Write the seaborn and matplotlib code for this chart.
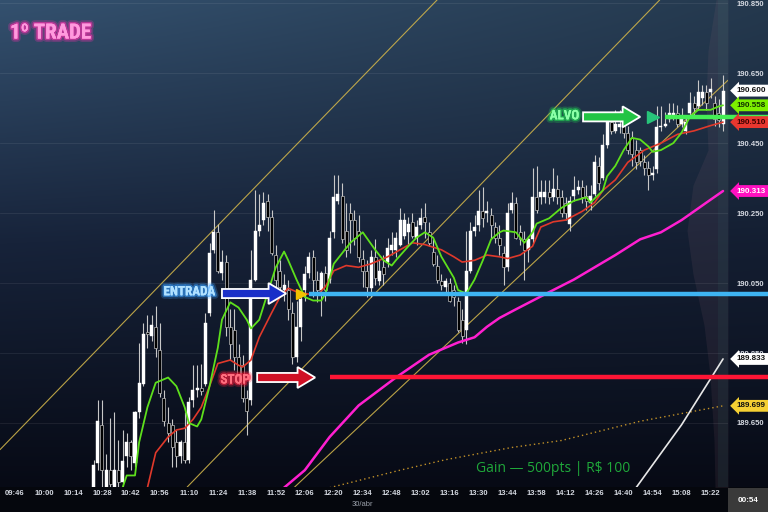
import numpy as np
import matplotlib
matplotlib.use("Agg")
import matplotlib.pyplot as plt
import matplotlib.patheffects as pe
import matplotlib.transforms as mtransforms
from matplotlib.patches import FancyArrow, Rectangle
from matplotlib.colors import to_rgb
import seaborn as sns

sns.set_style("dark")
plt.rcParams['font.family'] = ['DejaVu Sans']


def hm(s):
    h, m = s.split(":")
    return int(h) * 60 + int(m)


# ---- 2 minute candles ----
first_bar = "10:24"
opens = [189.465, 189.535, 189.645, 189.465, 189.515, 189.465, 189.515, 189.480, 189.555, 189.595,
         189.535, 189.680, 189.760, 189.910, 189.900, 189.925, 189.860, 189.720, 189.650, 189.645,
         189.595, 189.555, 189.595, 189.545, 189.715, 189.745, 189.750, 189.760, 189.965, 190.145,
         190.195, 190.080, 190.110, 189.925, 189.915, 189.840, 189.815, 189.720, 189.715, 190.060,
         190.200, 190.230, 190.285, 190.240, 190.130, 190.085, 190.030, 190.030, 189.965, 189.840,
         189.925, 190.030, 190.080, 190.125, 190.060, 190.030, 190.080, 190.060, 190.195, 190.285,
         190.300, 190.200, 190.250, 190.230, 190.200, 190.120, 190.085, 190.035, 190.125, 190.055,
         190.095, 190.110, 190.145, 190.145, 190.160, 190.185, 190.195, 190.225, 190.180, 190.215,
         190.240, 190.195, 190.140, 190.100, 190.055, 190.040, 190.050, 190.030, 190.000, 189.945,
         189.915, 190.085, 190.200, 190.215, 190.255, 190.250, 190.245, 190.210, 190.180, 190.135,
         190.095, 190.260, 190.280, 190.195, 190.175, 190.145, 190.175, 190.295, 190.295, 190.295,
         190.310, 190.295, 190.320, 190.295, 190.280, 190.220, 190.300, 190.315, 190.325, 190.300,
         190.280, 190.305, 190.385, 190.350, 190.445, 190.510, 190.485, 190.495, 190.505, 190.480,
         190.465, 190.430, 190.430, 190.395, 190.380, 190.360, 190.375, 190.495, 190.500, 190.520,
         190.525, 190.535, 190.505, 190.485, 190.535, 190.565, 190.555, 190.580, 190.595, 190.595,
         190.565, 190.535, 190.505]
highs = [189.545, 189.715, 189.715, 189.560, 189.665, 189.680, 189.600, 189.630, 189.620, 189.600,
         189.685, 189.880, 189.935, 189.960, 189.960, 189.985, 189.935, 189.745, 189.695, 189.660,
         189.630, 189.600, 189.680, 189.725, 189.815, 189.815, 189.820, 189.965, 190.165, 190.260,
         190.220, 190.145, 190.130, 189.975, 189.975, 189.875, 189.845, 189.745, 190.145, 190.315,
         190.305, 190.310, 190.305, 190.260, 190.160, 190.115, 190.075, 190.060, 189.995, 190.000,
         190.020, 190.100, 190.140, 190.145, 190.085, 190.085, 190.100, 190.200, 190.360, 190.360,
         190.335, 190.280, 190.280, 190.260, 190.245, 190.145, 190.115, 190.145, 190.175, 190.115,
         190.130, 190.180, 190.195, 190.195, 190.265, 190.250, 190.240, 190.250, 190.230, 190.265,
         190.280, 190.225, 190.175, 190.130, 190.075, 190.065, 190.065, 190.045, 190.010, 189.975,
         190.200, 190.225, 190.245, 190.315, 190.325, 190.285, 190.265, 190.225, 190.215, 190.155,
         190.280, 190.310, 190.295, 190.215, 190.200, 190.185, 190.380, 190.385, 190.345, 190.345,
         190.345, 190.380, 190.360, 190.315, 190.295, 190.300, 190.355, 190.345, 190.345, 190.330,
         190.330, 190.415, 190.410, 190.475, 190.535, 190.535, 190.545, 190.545, 190.530, 190.500,
         190.485, 190.460, 190.440, 190.415, 190.400, 190.385, 190.555, 190.555, 190.540, 190.565,
         190.565, 190.560, 190.550, 190.530, 190.595, 190.585, 190.630, 190.615, 190.615, 190.635,
         190.585, 190.575, 190.645]
lows = [189.460, 189.515, 189.465, 189.460, 189.460, 189.460, 189.460, 189.465, 189.525, 189.515,
        189.525, 189.665, 189.755, 189.865, 189.885, 189.840, 189.725, 189.640, 189.595, 189.525,
        189.525, 189.535, 189.535, 189.535, 189.695, 189.725, 189.730, 189.755, 189.955, 190.135,
        190.080, 190.060, 189.900, 189.830, 189.800, 189.760, 189.710, 189.615, 189.700, 190.055,
        190.185, 190.215, 190.200, 190.130, 190.040, 190.015, 190.000, 189.945, 189.820, 189.825,
        189.885, 190.000, 190.065, 190.010, 189.995, 189.955, 190.000, 190.050, 190.180, 190.275,
        190.165, 190.125, 190.135, 190.160, 190.110, 190.040, 190.010, 190.010, 190.045, 190.045,
        190.045, 190.095, 190.130, 190.125, 190.155, 190.175, 190.160, 190.180, 190.160, 190.205,
        190.180, 190.155, 190.100, 190.050, 190.030, 190.025, 189.995, 189.985, 189.910, 189.880,
        189.875, 190.080, 190.185, 190.200, 190.210, 190.225, 190.180, 190.165, 190.130, 190.045,
        190.085, 190.250, 190.175, 190.160, 190.060, 190.110, 190.165, 190.250, 190.275, 190.280,
        190.275, 190.285, 190.275, 190.240, 190.230, 190.200, 190.285, 190.305, 190.280, 190.260,
        190.260, 190.300, 190.315, 190.345, 190.435, 190.475, 190.480, 190.480, 190.465, 190.420,
        190.385, 190.375, 190.385, 190.360, 190.315, 190.345, 190.365, 190.485, 190.495, 190.510,
        190.515, 190.495, 190.495, 190.475, 190.525, 190.530, 190.545, 190.560, 190.545, 190.580,
        190.500, 190.495, 190.485]
closes = [189.530, 189.655, 189.515, 189.515, 189.475, 189.515, 189.480, 189.540, 189.595, 189.555,
          189.680, 189.765, 189.905, 189.905, 189.930, 189.865, 189.735, 189.655, 189.620, 189.580,
          189.555, 189.595, 189.545, 189.710, 189.745, 189.750, 189.740, 189.935, 190.135, 190.195,
          190.085, 190.110, 189.925, 189.875, 189.840, 189.785, 189.720, 189.685, 190.060, 190.200,
          190.215, 190.280, 190.240, 190.135, 190.060, 190.040, 190.045, 189.975, 189.840, 189.925,
          190.005, 190.075, 190.125, 190.060, 190.030, 190.080, 190.030, 190.180, 190.295, 190.305,
          190.175, 190.145, 190.230, 190.180, 190.125, 190.085, 190.040, 190.125, 190.065, 190.085,
          190.075, 190.150, 190.160, 190.180, 190.230, 190.230, 190.220, 190.185, 190.210, 190.235,
          190.225, 190.165, 190.105, 190.060, 190.045, 190.055, 190.000, 190.010, 189.915, 189.900,
          190.085, 190.200, 190.210, 190.255, 190.235, 190.255, 190.215, 190.180, 190.160, 190.095,
          190.250, 190.280, 190.180, 190.175, 190.145, 190.175, 190.295, 190.260, 190.310, 190.310,
          190.295, 190.320, 190.295, 190.250, 190.250, 190.285, 190.315, 190.325, 190.295, 190.285,
          190.300, 190.395, 190.335, 190.445, 190.510, 190.485, 190.505, 190.505, 190.480, 190.430,
          190.420, 190.395, 190.400, 190.380, 190.360, 190.365, 190.495, 190.500, 190.505, 190.535,
          190.535, 190.505, 190.520, 190.510, 190.565, 190.550, 190.595, 190.595, 190.565, 190.605,
          190.520, 190.515, 190.600]

# indicator lines, read at candle numbers (1 = first candle)
fast_bar = [8, 9, 11, 12, 14, 16, 19, 21, 23, 24, 26, 27, 29, 31, 32, 34, 36, 38, 39, 41,
            43, 45, 47, 48, 50, 52, 54, 56, 57, 59, 61, 63, 66, 69, 71, 73, 74, 77, 79, 81,
            83, 85, 88, 89, 91, 93, 95, 97, 99, 100, 103, 105, 107, 108, 111, 114, 117, 120, 121, 124,
            125, 127, 129, 131, 133, 135, 136, 138, 141, 143, 145, 147, 150, 152, 153]
fast_val = [189.465, 189.500, 189.500, 189.595, 189.695, 189.765, 189.780, 189.755, 189.695, 189.650,
            189.640, 189.660, 189.755, 189.865, 189.945, 189.995, 189.980, 189.945, 189.920, 189.945,
            190.020, 190.095, 190.140, 190.115, 190.060, 190.010, 190.000, 190.000, 190.020, 190.105,
            190.135, 190.165, 190.195, 190.145, 190.115, 190.100, 190.115, 190.155, 190.180, 190.195,
            190.180, 190.125, 190.065, 190.030, 190.020, 190.060, 190.115, 190.175, 190.195, 190.200,
            190.195, 190.165, 190.195, 190.220, 190.235, 190.265, 190.285, 190.295, 190.280, 190.315,
            190.355, 190.385, 190.430, 190.465, 190.460, 190.440, 190.425, 190.430, 190.450, 190.480,
            190.525, 190.545, 190.545, 190.555, 190.558]
slow_bar = [14, 16, 19, 21, 23, 25, 27, 29, 31, 34, 36, 37, 39, 41, 44, 46, 48, 50, 52, 55,
            57, 59, 62, 65, 68, 72, 75, 78, 81, 85, 88, 90, 93, 96, 99, 101, 104, 107, 109, 112,
            115, 119, 122, 124, 127, 130, 134, 138, 142, 146, 150, 153]
slow_val = [189.465, 189.565, 189.610, 189.630, 189.635, 189.660, 189.695, 189.755, 189.820, 189.830,
            189.815, 189.810, 189.830, 189.895, 189.965, 190.010, 190.035, 190.025, 190.020, 190.015,
            190.040, 190.085, 190.100, 190.095, 190.105, 190.125, 190.145, 190.165, 190.160, 190.145,
            190.125, 190.110, 190.115, 190.130, 190.125, 190.120, 190.130, 190.155, 190.210, 190.225,
            190.230, 190.255, 190.280, 190.315, 190.345, 190.395, 190.430, 190.450, 190.475, 190.485,
            190.500, 190.510]
long_bar = [47, 52, 58, 65, 74, 82, 89, 93, 96, 99, 103, 112, 117, 122, 127, 133, 138, 143, 149, 153]
long_val = [189.465, 189.515, 189.610, 189.700, 189.780, 189.845, 189.880, 189.895, 189.925, 189.950,
            189.975, 190.030, 190.060, 190.095, 190.130, 190.175, 190.195, 190.230, 190.280, 190.313]
vwap_bar = [58, 75, 86, 102, 114, 133, 153]
vwap_val = [189.465, 189.515, 189.545, 189.580, 189.600, 189.655, 189.699]
white_bar = [132, 143, 153]
white_val = [189.465, 189.645, 189.833]

# hand-drawn channel (two anchor points each)
chan_upper = [("10:24", 189.849), ("13:02", 190.811)]
chan_mid = [("11:22", 189.545), ("14:42", 190.765)]
chan_low = [("12:22", 189.583), ("15:22", 190.583)]

# trade levels
entry_price, entry_time = 190.020, "12:04"
stop_price = 189.780
target_price, target_time = 190.525, "14:54"

# volume profile (right side)
prof_price = [190.860, 190.715, 190.575, 190.430, 190.330, 190.200, 190.075, 189.930, 189.785, 189.600, 189.465]
prof_vol = [12, 20, 22, 20, 35, 41, 35, 24, 18, 14, 13]

price_ticks = [190.850, 190.650, 190.450, 190.250, 190.050, 189.850, 189.650]
time_ticks = ["09:46", "10:00", "10:14", "10:28", "10:42", "10:56", "11:10", "11:24", "11:38",
              "11:52", "12:06", "12:20", "12:34", "12:48", "13:02", "13:16", "13:30", "13:44",
              "13:58", "14:12", "14:26", "14:40", "14:54", "15:08", "15:22"]

o = np.array(opens)
h = np.array(highs)
l = np.array(lows)
c = np.array(closes)
t = hm(first_bar) + 2 * np.arange(len(c))

XL = (578.8, 930.4)
YL = (189.467, 190.859)
NARROW = ["Liberation Sans Narrow", "Roboto Condensed", "Noto Sans Condensed", "DejaVu Sans"]

fig = plt.figure(figsize=(7.68, 5.12), dpi=100, facecolor="#05070d")

# background gradient
bg = fig.add_axes([0, 25 / 512, 1, 487 / 512], zorder=0)
rows = np.linspace(0, 1, 256)[:, None, None]
cols = np.linspace(0, 1, 256)[None, :, None]
top, mid, bot = [np.array(to_rgb(x)) for x in ("#34516f", "#17233a", "#070a15")]
grad = np.where(rows < 0.5, top + (mid - top) * rows / 0.5, mid + (bot - mid) * (rows - 0.5) / 0.5)
grad = grad * (1 - 0.3 * cols * (1 - rows))
bg.imshow(np.clip(grad, 0, 1), aspect="auto", extent=[0, 1, 0, 1])
bg.axis("off")

# volume profile
pax = fig.add_axes([680 / 768, 25 / 512, 48 / 768, 487 / 512], zorder=1)
pax.fill_betweenx(prof_price, 0, prof_vol, color="#a07080", alpha=0.11, lw=0)
pax.set_xlim(48, 0)
pax.set_ylim(*YL)
pax.axis("off")

ax = fig.add_axes([0, 25 / 512, 728 / 768, 487 / 512], zorder=2)
ax.set_facecolor("none")
ax.set_xlim(*XL)
ax.set_ylim(*YL)
for s in ax.spines.values():
    s.set_visible(False)

ax.axvspan(hm("15:25") + 0.5, XL[1], color="#3a9a8a", alpha=0.08, lw=0, zorder=0)
ax.grid(False)
for p in price_ticks:
    ax.axhline(p, color="white", alpha=0.07, lw=0.8, zorder=0.5)

# channel
for (a, pa), (b, pb) in (chan_upper, chan_mid, chan_low):
    ax.axline((hm(a), pa), (hm(b), pb), color="#cdb24a", lw=0.8, alpha=0.9, zorder=1)

# candles
up = c >= o
ax.vlines(t, l, h, color="#c8c8c8", lw=0.8, zorder=3)
ax.bar(t[up], np.maximum(c - o, 0.002)[up], bottom=o[up], width=1.45,
       color="white", edgecolor="white", lw=0.3, zorder=4)
ax.bar(t[~up], (o - c)[~up], bottom=c[~up], width=1.45,
       color="black", edgecolor="#bdbdbd", lw=0.5, zorder=4)

# indicator lines
sns.lineplot(x=t[np.array(vwap_bar) - 1], y=vwap_val, ax=ax, color="#c09028", lw=1.0,
             linestyle=(0, (1, 2.2)), zorder=2)
sns.lineplot(x=t[np.array(long_bar) - 1], y=long_val, ax=ax, color="#ff1fd0", lw=1.8, zorder=5)
sns.lineplot(x=t[np.array(slow_bar) - 1], y=slow_val, ax=ax, color="#e0392b", lw=1.2, zorder=5)
sns.lineplot(x=t[np.array(fast_bar) - 1], y=fast_val, ax=ax, color="#5ee01c", lw=1.3, zorder=6)
sns.lineplot(x=t[np.array(white_bar) - 1], y=white_val, ax=ax, color="#e8e8e8", lw=1.2, zorder=5)

# trade levels (run over the price scale)
xr = XL[1] + 40 / 2.07
ax.hlines(entry_price, hm("12:08"), xr, color="#3eb4f2", lw=3.2, clip_on=False, zorder=7)
ax.hlines(stop_price, hm("12:18"), xr, color="#ff1535", lw=3.2, clip_on=False, zorder=7)
ax.hlines(target_price, hm("15:00"), xr, color="#44ee55", lw=3.2, clip_on=False, zorder=7)
ax.plot(hm(entry_time), entry_price, marker=">", ms=7, color="#f2c200", zorder=8)
ax.plot(hm(target_time), target_price, marker=">", ms=9, color="#27c47a", zorder=8)


def trade_arrow(x0, x1, y, fc):
    ax.add_patch(FancyArrow(x0, y, x1 - x0, 0, width=0.026, head_width=0.06, head_length=8.5,
                            length_includes_head=True, fc=fc, ec="white", lw=1.3, zorder=9))


def neon(x, y, s, fc, gc, size, ha="right", transform=None):
    ax.text(x, y, s, color=fc, fontsize=size, fontweight="bold", fontstretch="condensed",
            ha=ha, va="center", family=NARROW, zorder=10,
            transform=transform if transform is not None else ax.transData,
            path_effects=[pe.withStroke(linewidth=5, foreground=gc, alpha=0.25),
                          pe.withStroke(linewidth=2.5, foreground=gc, alpha=0.55), pe.Normal()])


trade_arrow(686, 717, entry_price, "#1a2fc8")
trade_arrow(703, 731, stop_price, "#d01025")
trade_arrow(860.4, 888, target_price, "#22c444")
neon(682.6, 190.025, "ENTRADA", "#b2e2ff", "#3aa0ff", 9.4)
neon(699.5, 189.773, "STOP", "#ff7080", "#ff2040", 9.4)
neon(858.5, 190.528, "ALVO", "#8dffa8", "#22dd55", 9.4)
neon(10 / 768, 1 - 33 / 512, "1º TRADE", "#ff9ade", "#ff2fb0", 15, ha="left", transform=fig.transFigure)

fig.text(553 / 768, 1 - 468 / 512, "Gain — 500pts | R$ 100", color="#1fa83a", fontsize=10,
         family=["Open Sans", "DejaVu Sans"], ha="center", va="center")

# axes ticks
ax.yaxis.tick_right()
ax.set_yticks(price_ticks)
ax.set_yticklabels([f"{p:.3f}" for p in price_ticks])
ax.set_xticks([hm(s) for s in time_ticks])
ax.set_xticklabels(time_ticks)
ax.tick_params(axis="both", length=0, colors="#d4d8e0", labelsize=5.5)
ax.tick_params(axis="y", pad=6.5)
ax.tick_params(axis="x", pad=2.5)
for lab in ax.get_xticklabels() + ax.get_yticklabels():
    lab.set_fontweight("bold")
    lab.set_family(["Liberation Sans", "DejaVu Sans"])

# last value tags
tags = [(closes[-1], "#ffffff", "#111111"), (fast_val[-1], "#7cf000", "#103000"),
        (slow_val[-1], "#e8372f", "#3a0000"), (long_val[-1], "#ff10c0", "#ffffff"),
        (white_val[-1], "#ffffff", "#111111"), (vwap_val[-1], "#f5d033", "#111111")]
trans = mtransforms.blended_transform_factory(ax.transAxes, ax.transData)
for val, bgc, fgc in tags:
    ax.text(1.012, val, f"{val:.3f}", transform=trans, ha="left", va="center", fontsize=5.8,
            fontweight="bold", color=fgc, family=["Liberation Sans", "DejaVu Sans"],
            bbox=dict(boxstyle="larrow,pad=0.3", fc=bgc, ec="none"), zorder=12, clip_on=False)

fig.text(362 / 768, 1 - 505 / 512, "30/abr", color="#9aa0aa", fontsize=5.5, ha="center", va="center",
         family=["Liberation Sans", "DejaVu Sans"])
fig.patches.append(Rectangle((728 / 768, 0), 40 / 768, 24 / 512, transform=fig.transFigure,
                             fc="#3a3a3a", ec="none", zorder=3))
fig.text(748 / 768, 12 / 512, "00:54", color="white", fontsize=5.8, fontweight="bold",
         ha="center", va="center", family=["Liberation Sans", "DejaVu Sans"], zorder=4)

fig.savefig("out.png", dpi=100, facecolor=fig.get_facecolor())
